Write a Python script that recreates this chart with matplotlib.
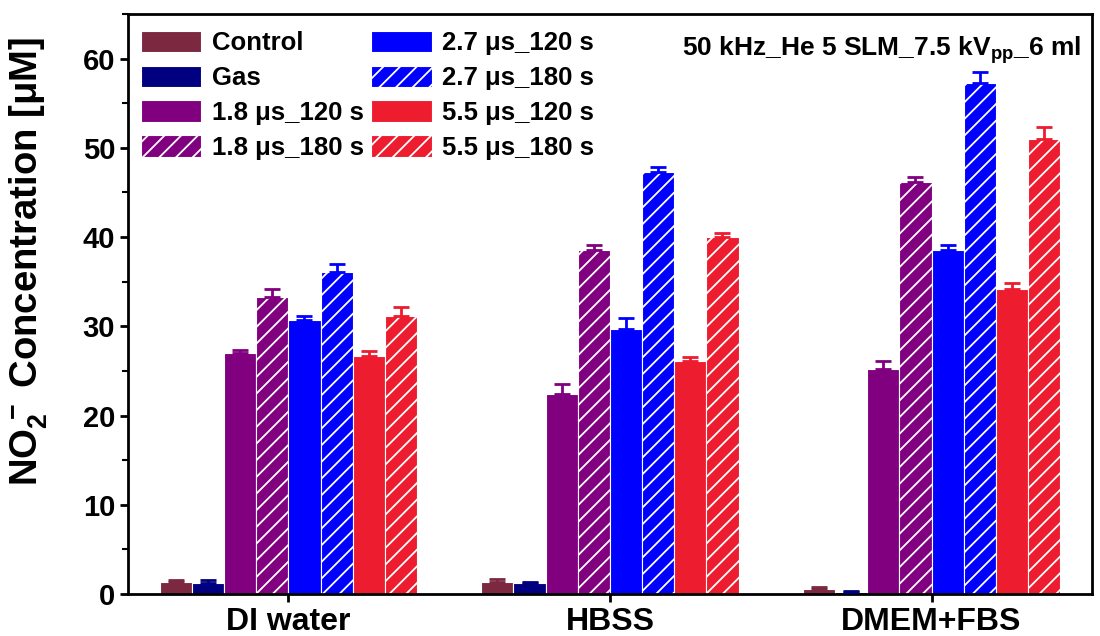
import numpy as np
import matplotlib
matplotlib.use('Agg')
import matplotlib.pyplot as plt
from matplotlib.ticker import MultipleLocator

plt.rcParams['font.family'] = ['Liberation Sans', 'DejaVu Sans']
plt.rcParams['font.weight'] = 'bold'
plt.rcParams['mathtext.fontset'] = 'custom'
plt.rcParams['mathtext.rm'] = 'Liberation Sans:bold'
plt.rcParams['mathtext.bf'] = 'Liberation Sans:bold'
plt.rcParams['mathtext.it'] = 'Liberation Sans:bold'
plt.rcParams['hatch.linewidth'] = 1.3

# データ
groups = ['DI water', 'HBSS', 'DMEM+FBS']
series = ['Control', 'Gas', '1.8 μs_120 s', '1.8 μs_180 s',
          '2.7 μs_120 s', '2.7 μs_180 s', '5.5 μs_120 s', '5.5 μs_180 s']
colors = ['#7b2840', '#000080', '#800080', '#800080',
          '#0000ff', '#0000ff', '#ed1c2e', '#ed1c2e']
hatches = ['', '', '', '//', '', '//', '', '//']

# 各系列の値 (DI water, HBSS, DMEM+FBS)
control = [1.3, 1.3, 0.6]
gas = [1.2, 1.2, 0.2]
p18_120 = [27.0, 22.4, 25.2]
p18_180 = [33.3, 38.6, 46.2]
p27_120 = [30.7, 29.7, 38.6]
p27_180 = [36.1, 47.3, 57.3]
p55_120 = [26.7, 26.1, 34.2]
p55_180 = [31.2, 40.0, 51.0]

err_control = [0.25, 0.35, 0.15]
err_gas = [0.35, 0.2, 0.15]
err_18_120 = [0.35, 1.1, 0.9]
err_18_180 = [0.9, 0.5, 0.5]
err_27_120 = [0.5, 1.2, 0.5]
err_27_180 = [0.9, 0.5, 1.2]
err_55_120 = [0.5, 0.45, 0.6]
err_55_180 = [1.0, 0.5, 1.3]

values = [control, gas, p18_120, p18_180, p27_120, p27_180, p55_120, p55_180]
errors = [err_control, err_gas, err_18_120, err_18_180,
          err_27_120, err_27_180, err_55_120, err_55_180]

fig = plt.figure(figsize=(11, 6.36), dpi=100)
ax = fig.add_axes([0.116, 0.066, 0.877, 0.912])

x = np.arange(1, len(groups) + 1)
w = 0.1
n = len(series)
for i in range(n):
    pos = x + (i - (n - 1) / 2) * w
    ax.bar(pos, values[i], w, color=colors[i], edgecolor='white',
           linewidth=0.8, hatch=hatches[i], label=series[i], zorder=2)
    ax.errorbar(pos, values[i], yerr=[np.zeros(3), errors[i]], fmt='none',
                ecolor=colors[i], elinewidth=2, capsize=6, capthick=2, zorder=3)

ax.set_xlim(0.5, 3.5)
ax.set_ylim(0, 65)
ax.set_xticks(x)
ax.set_xticklabels(groups, fontsize=23, fontweight='bold')
ax.yaxis.set_major_locator(MultipleLocator(10))
ax.yaxis.set_minor_locator(MultipleLocator(5))
ax.tick_params(axis='y', which='major', labelsize=21, width=2, length=6, pad=3)
ax.tick_params(axis='y', which='minor', width=1.5, length=4)
ax.tick_params(axis='x', which='major', width=2, length=6)
for s in ax.spines.values():
    s.set_linewidth(2)

ax.set_ylabel(r'NO$_2^{\,-}$ Concentration [μM]', fontsize=27.5, fontweight='bold')
ax.yaxis.set_label_coords(-0.08, 0.574)

ax.text(0.988, 0.965, r'50 kHz_He 5 SLM_7.5 kV$_{pp}$_6 ml', transform=ax.transAxes,
        ha='right', va='top', fontsize=19, fontweight='bold')

ax.legend(ncol=2, loc='upper left', frameon=False, fontsize=18.5,
          handlelength=2.35, handleheight=0.9, columnspacing=0.3,
          handletextpad=0.4, labelspacing=0.4, borderaxespad=0.05,
          bbox_to_anchor=(0.002, 0.991))

plt.savefig('out.png', dpi=100)
